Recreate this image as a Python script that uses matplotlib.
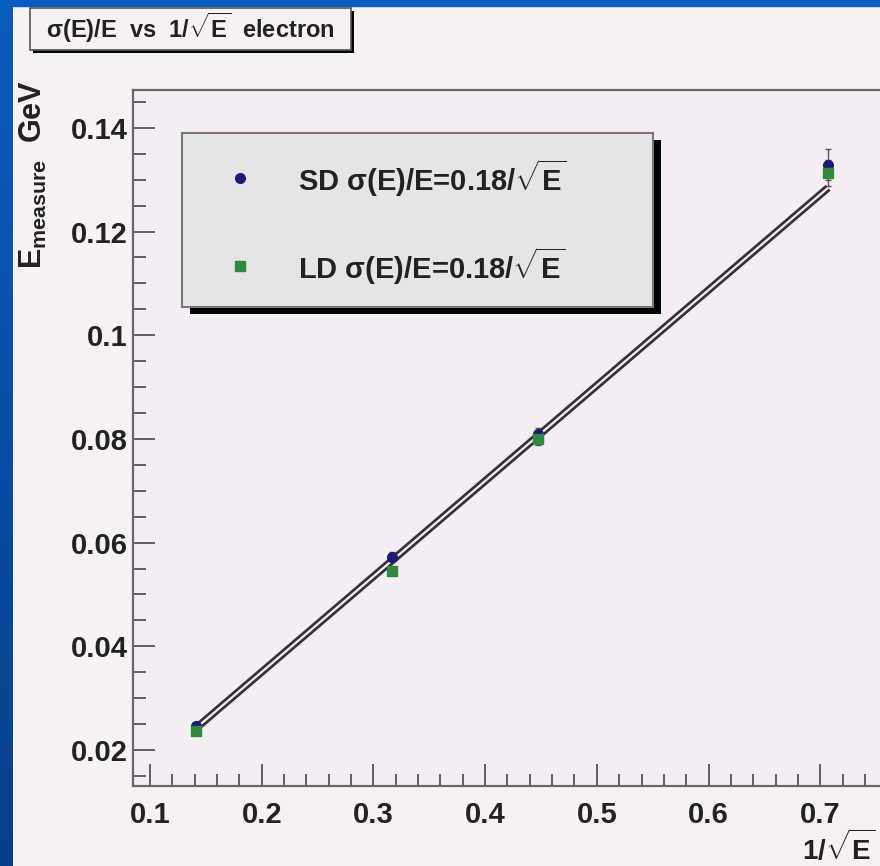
import numpy as np
import matplotlib
matplotlib.use("Agg")
import matplotlib.pyplot as plt
from matplotlib import font_manager
from matplotlib.lines import Line2D
from matplotlib.patches import Rectangle
from matplotlib.ticker import MultipleLocator

plt.rcParams["font.family"] = ["Liberation Sans", "DejaVu Sans"]
plt.rcParams["font.weight"] = "bold"
plt.rcParams["mathtext.fontset"] = "custom"
plt.rcParams["mathtext.rm"] = "Liberation Sans:bold"
plt.rcParams["mathtext.bf"] = "Liberation Sans:bold"
plt.rcParams["mathtext.it"] = "Liberation Sans:bold"

# ---------------- data ----------------
energies = [50, 10, 5, 2]                      # GeV
inv_sqrt_e = [1 / np.sqrt(e) for e in energies]
sd_res = [0.0246, 0.0572, 0.0810, 0.1329]
sd_err = [0.0008, 0.0009, 0.0012, 0.0030]
ld_res = [0.0237, 0.0545, 0.0800, 0.1313]
ld_err = [0.0007, 0.0008, 0.0011, 0.0025]
fit_slope = 0.1842
fit_intercept = -0.0018

labels = [r"SD $\sigma$(E)/E=0.18/$\sqrt{\mathrm{E}}$",
          r"LD $\sigma$(E)/E=0.18/$\sqrt{\mathrm{E}}$"]
xticks = [0.1, 0.2, 0.3, 0.4, 0.5, 0.6, 0.7]
yticks = [0.02, 0.04, 0.06, 0.08, 0.1, 0.12, 0.14]

# narrow font for the title if there is one
try:
    font_manager.findfont("Liberation Sans Narrow", fallback_to_default=False)
    title_family, title_size = ["Liberation Sans Narrow", "Liberation Sans"], 19
except ValueError:
    title_family, title_size = ["Liberation Sans", "DejaVu Sans"], 17

W, H = 880, 866
fig = plt.figure(figsize=(W / 100, H / 100), dpi=100)
fig.patch.set_facecolor("#f6f1f5")

# blue slide frame (left strip + top strip)
grad = np.linspace(0, 1, 256).reshape(-1, 1)
bax = fig.add_axes([0, 0, 12 / W, 1])
bax.imshow(grad, aspect="auto", cmap=matplotlib.colors.LinearSegmentedColormap.from_list(
    "b", ["#0b5cbf", "#083f8a"]), extent=[0, 1, 0, 1])
bax.axis("off")
fig.patches.append(Rectangle((0, 1 - 6 / H), 1, 6 / H, transform=fig.transFigure,
                             color="#0b5cbf", zorder=5))

ax = fig.add_axes([133 / W, 80 / H, 1 - 133 / W, 696 / H])
ax.set_facecolor("#f4eef4")
ax.set_xlim(0.0848, 0.7535)
ax.set_ylim(0.01305, 0.1473)

# fit line (double line look)
xf = np.array([inv_sqrt_e[0], inv_sqrt_e[-1]])
yf = fit_slope * xf + fit_intercept
ax.plot(xf, yf, color="#333333", lw=5.5, solid_capstyle="butt", zorder=2)
ax.plot(xf, yf, color="#f4eef4", lw=1.6, solid_capstyle="butt", zorder=3)

ax.errorbar(inv_sqrt_e, sd_res, yerr=sd_err, fmt="o", color="#1b1a7a", ms=7,
            ecolor="#555555", elinewidth=1, capsize=2, zorder=4)
ax.errorbar(inv_sqrt_e, ld_res, yerr=ld_err, fmt="s", color="#2e8b3e", ms=6.5,
            ecolor="#555555", elinewidth=1, capsize=2, zorder=4)

ax.xaxis.set_minor_locator(MultipleLocator(0.02))
ax.yaxis.set_minor_locator(MultipleLocator(0.005))
ax.set_xticks(xticks)
ax.set_xticklabels([f"{t:g}" for t in xticks])
ax.set_yticks(yticks)
ax.set_yticklabels([f"{t:g}" for t in yticks])
ax.tick_params(which="both", direction="in", top=False, right=False, colors="#555555",
               labelcolor="#222222", labelsize=21)
ax.tick_params(which="major", length=16, width=1.3)
ax.tick_params(which="minor", length=9, width=1.3)
ax.tick_params(axis="x", pad=11)
ax.tick_params(axis="y", pad=4)
for s in ["left", "top", "bottom"]:
    ax.spines[s].set_color("#666666")
    ax.spines[s].set_linewidth(1.6)
ax.spines["right"].set_visible(False)

# legend box with shadow
lx0, ly0, lw_, lh_ = 182 / W, 1 - 307 / H, 471 / W, 174 / H
fig.patches.append(Rectangle((lx0 + 8 / W, ly0 - 7 / H), lw_, lh_, transform=fig.transFigure,
                             facecolor="black", edgecolor="none", zorder=6))
fig.patches.append(Rectangle((lx0, ly0), lw_, lh_, transform=fig.transFigure,
                             facecolor="#e5e5e5", edgecolor="#777777", lw=1.5, zorder=7))
for i, (lab, m, c, ms) in enumerate(zip(labels, ["o", "s"], ["#1b1a7a", "#2e8b3e"], [7, 6.5])):
    yy = 1 - (178 + 88 * i) / H
    fig.add_artist(Line2D([240 / W], [yy], marker=m, color=c, ms=ms,
                          transform=fig.transFigure, zorder=8))
    fig.text(298 / W, yy, lab, fontsize=21, fontweight="bold", va="center",
             color="#222222", zorder=8)

# title box
tx0, ty0, tw, th = 30 / W, 1 - 50 / H, 321 / W, 42 / H
fig.patches.append(Rectangle((tx0 + 3 / W, ty0 - 3 / H), tw, th, transform=fig.transFigure,
                             facecolor="black", edgecolor="none", zorder=6))
fig.patches.append(Rectangle((tx0, ty0), tw, th, transform=fig.transFigure,
                             facecolor="#f6f1f5", edgecolor="#555555", lw=1.2, zorder=7))
fig.text(tx0 + tw / 2, ty0 + th / 2 + 1 / H,
         r"$\sigma$(E)/E  vs  1/$\sqrt{\mathrm{E}}$  electron", family=title_family,
         ha="center", va="center", fontsize=title_size, fontweight="bold",
         color="#222222", zorder=8)

# axis titles
fig.text(33 / W, 1 - 80 / H, r"E$_{\mathrm{measure}}$  GeV", rotation=90, ha="center",
         va="top", fontsize=22, fontweight="bold", color="#222222")
fig.text(876 / W, 1 - 848 / H, r"1/$\sqrt{\mathrm{E}}$", ha="right", va="center",
         fontsize=20, fontweight="bold", color="#222222")

fig.savefig("out.png", dpi=100, facecolor=fig.get_facecolor())
